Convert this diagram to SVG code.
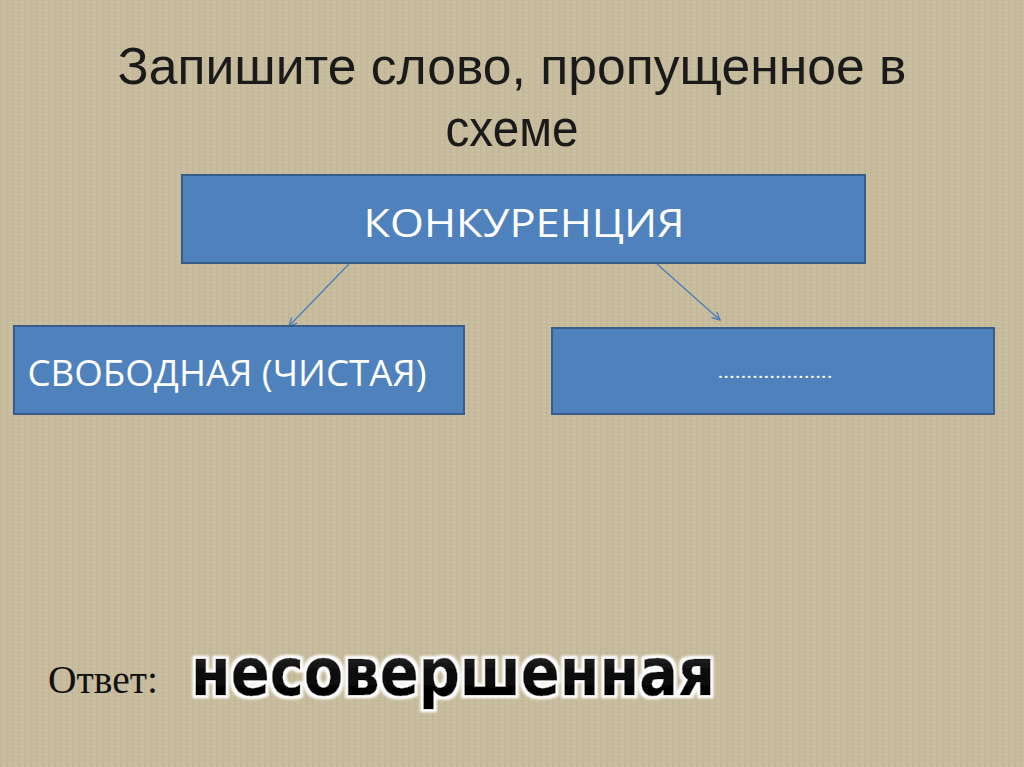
<svg xmlns="http://www.w3.org/2000/svg" width="1024" height="767" viewBox="0 0 1024 767">
  <defs>
    <pattern id="tex" width="6" height="4" patternUnits="userSpaceOnUse">
      <rect width="6" height="4" fill="#c7bb9d"/>
      <rect x="0" y="0" width="1" height="4" fill="#bdb091" opacity="0.6"/>
      <rect x="3" y="2" width="3" height="1" fill="#d3c8ac" opacity="0.6"/>
    </pattern>
    <linearGradient id="blk" x1="0" y1="0" x2="0" y2="1">
      <stop offset="0" stop-color="#4a4a4a"/>
      <stop offset="0.5" stop-color="#0a0a0a"/>
      <stop offset="1" stop-color="#000000"/>
    </linearGradient>
    <marker id="arr" viewBox="0 0 10 10" refX="9" refY="5" markerWidth="10" markerHeight="10" markerUnits="userSpaceOnUse" orient="auto">
      <path d="M1,1 L9,5 L1,9" fill="none" stroke="#4a7ebb" stroke-width="1.3"/>
    </marker>
    <filter id="glow" x="-5%" y="-20%" width="110%" height="140%">
      <feMorphology in="SourceAlpha" operator="dilate" radius="2.5" result="d"/>
      <feFlood flood-color="#ffffff"/>
      <feComposite in2="d" operator="in" result="w"/>
      <feGaussianBlur in="w" stdDeviation="0.8" result="wb"/>
      <feMerge><feMergeNode in="wb"/><feMergeNode in="SourceGraphic"/></feMerge>
    </filter>
  </defs>
  <style>
    .box { fill: #4f81bd; stroke: #385d8a; stroke-width: 2; }
    .lbl { font-family: "Open Sans", "Liberation Sans", sans-serif; fill: #ffffff; }
    .title { font-family: "Liberation Sans", Arial, sans-serif; fill: #1a1a1a; font-size: 52px; }
    .conn { stroke: #4a7ebb; stroke-width: 1.3; fill: none; marker-end: url(#arr); }
  </style>
  <rect width="1024" height="767" fill="url(#tex)"/>

  <g id="title">
    <text class="title" x="512" y="84" text-anchor="middle" textLength="789" lengthAdjust="spacingAndGlyphs">Запишите слово, пропущенное в</text>
    <text class="title" x="512" y="146" text-anchor="middle" textLength="133" lengthAdjust="spacingAndGlyphs">схеме</text>
  </g>

  <g id="connectors">
    <line class="conn" x1="349" y1="264" x2="289" y2="326"/>
    <line class="conn" x1="657" y1="264" x2="720" y2="320"/>
  </g>

  <g id="node-competition">
    <rect class="box" x="182" y="175" width="683" height="88"/>
    <text class="lbl" x="524" y="237" text-anchor="middle" font-size="39" textLength="321" lengthAdjust="spacingAndGlyphs">КОНКУРЕНЦИЯ</text>
  </g>

  <g id="node-free">
    <rect class="box" x="14" y="326" width="450" height="88"/>
    <text class="lbl" x="227" y="386" text-anchor="middle" font-size="37" textLength="399" lengthAdjust="spacingAndGlyphs">СВОБОДНАЯ (ЧИСТАЯ)</text>
  </g>

  <g id="node-missing">
    <rect class="box" x="552" y="328" width="442" height="86"/>
    <text class="lbl" x="775" y="378" text-anchor="middle" font-size="18" textLength="115" lengthAdjust="spacingAndGlyphs">………………..</text>
  </g>

  <g id="answer">
    <text x="48" y="693" font-family="Liberation Serif, serif" font-size="40" fill="#111111" textLength="110" lengthAdjust="spacingAndGlyphs">Ответ:</text>
    <text x="191" y="695" font-family="DejaVu Sans, sans-serif" font-weight="bold" font-size="66" fill="url(#blk)" stroke="#000" stroke-width="0.5" filter="url(#glow)" textLength="524" lengthAdjust="spacingAndGlyphs">несовершенная</text>
  </g>
</svg>
